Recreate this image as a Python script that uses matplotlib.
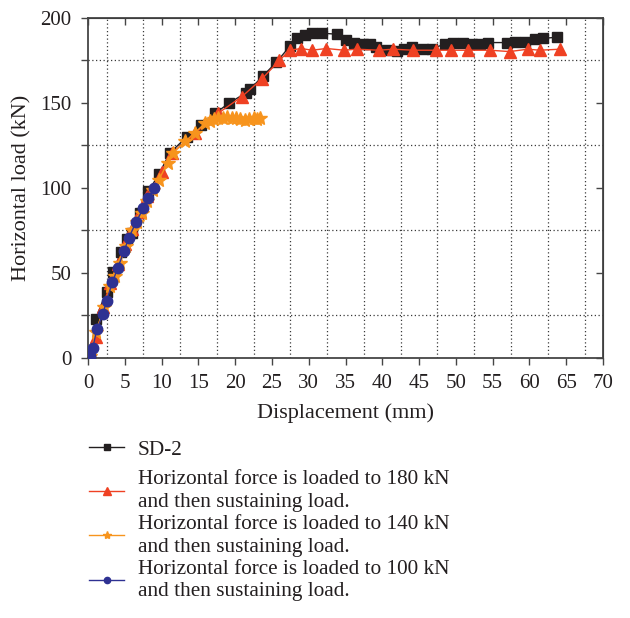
import matplotlib
matplotlib.use("Agg")
import matplotlib.pyplot as plt
from matplotlib.ticker import MultipleLocator

plt.rcParams['font.family'] = ['Liberation Serif', 'DejaVu Serif']

# SD-2 reference specimen
sd2_x = [0.3, 1.0, 2.5, 3.4, 4.4, 5.3, 5.9, 7.0, 8.2, 9.6, 11.1, 13.4, 15.3, 17.3,
         19.2, 21.5, 22.0, 23.8, 25.6, 27.5, 28.4, 29.5, 30.5, 31.8, 33.9, 35.1,
         36.2, 37.4, 38.3, 39.2, 40.6, 42.0, 43.0, 44.0, 45.5, 46.7, 48.5, 49.6,
         51.0, 52.2, 53.3, 54.4, 56.9, 58.0, 59.4, 60.8, 61.9, 63.7]
sd2_y = [0.6, 23, 39, 50.5, 62, 70, 73.5, 85, 98, 108, 120.5, 130, 137, 144,
         150, 156, 158, 166, 174, 183.7, 188, 190, 190.9, 191, 190.4, 187,
         185.5, 184.5, 184.5, 183, 181, 180.6, 181.6, 183, 182, 182, 184.5, 185.5,
         185, 184.5, 184.5, 185.5, 185.5, 186, 186, 187.5, 188, 188.6]

# Loaded to 180 kN, then sustained
f180_x = [0.3, 1.1, 2.0, 3.0, 4.0, 5.0, 6.0, 7.0, 8.0, 10.0, 11.4, 14.5, 17.7,
          20.9, 23.6, 26.0, 27.4, 29.0, 30.4, 32.4, 34.8, 36.5, 39.5, 41.5, 44.2,
          47.3, 49.4, 51.7, 54.6, 57.3, 59.8, 61.4, 64.2]
f180_y = [0.5, 12.5, 30, 44, 55, 67, 76, 86, 95, 109.4, 120.6, 132, 144,
          153.7, 164, 175, 181, 182, 181, 182, 181, 181.6, 181, 181.6, 181,
          181, 181, 181, 181, 180.2, 181.6, 181, 181.6]

# Loaded to 140 kN, then sustained
f140_x = [0.3, 1.0, 2.2, 3.0, 3.6, 4.35, 5.2, 6.0, 6.6, 7.3, 8.0, 8.8, 9.6, 10.8,
          11.6, 13.2, 14.5, 15.9, 16.5, 17.1, 17.7, 18.3, 18.9, 19.5, 20.1, 20.7,
          21.3, 21.9, 22.5, 23.0, 23.4]
f140_y = [1, 15, 30, 42, 48, 56, 66, 75, 80, 85, 92, 99, 104.7, 114.9,
          120.8, 127.3, 132.5, 138, 139.5, 140.5, 141, 141.3, 141.6, 141, 141.2, 140.4,
          139.8, 140.4, 141, 140.6, 141.4]

# Loaded to 100 kN, then sustained
f100_x = [0.3, 0.6, 1.2, 2.0, 2.5, 3.3, 4.0, 4.9, 5.5, 6.5, 7.5, 8.2, 9.0]
f100_y = [0.8, 5.7, 17, 25.7, 33.7, 44.5, 52.7, 63, 70.4, 79.8, 88, 94, 99.8]

labels = ["SD-2",
          "Horizontal force is loaded to 180 kN\nand then sustaining load.",
          "Horizontal force is loaded to 140 kN\nand then sustaining load.",
          "Horizontal force is loaded to 100 kN\nand then sustaining load."]

fig = plt.figure(figsize=(6.3, 6.18), dpi=100)
ax = fig.add_axes([0.14, 0.421, 0.817, 0.55])

c_black = "#231f20"
c_red = "#ef4123"
c_orange = "#f7941d"
c_blue = "#2e3192"
c_axis = "#454545"

h1, = ax.plot(sd2_x, sd2_y, color=c_black, lw=1.0, marker="s", ms=7.3, zorder=3)
h2, = ax.plot(f180_x, f180_y, color=c_red, lw=1.0, marker="^", ms=8.5, zorder=4)
h3, = ax.plot(f140_x, f140_y, color=c_orange, lw=1.0, marker="*", ms=10, zorder=5)
h4, = ax.plot(f100_x, f100_y, color=c_blue, lw=1.0, marker="o", ms=7.5, zorder=6)

ax.set_xlim(0, 70)
ax.set_ylim(0, 200)
ax.xaxis.set_major_locator(MultipleLocator(5))
ax.yaxis.set_major_locator(MultipleLocator(50))
ax.yaxis.set_minor_locator(MultipleLocator(25))
ax.tick_params(which="both", direction="out", length=5, width=1.0, pad=7,
               colors=c_axis, labelcolor="#231f20", labelsize=15)

# dotted grid between labelled ticks
for gx in [2.5 + 5 * i for i in range(14)]:
    ax.axvline(gx, color="#3a3a3a", ls=(0, (1, 2)), lw=0.9, zorder=1)
for gy in [25, 75, 125, 175]:
    ax.axhline(gy, color="#3a3a3a", ls=(0, (1, 2)), lw=0.9, zorder=1)

for s in ax.spines.values():
    s.set_color(c_axis)
    s.set_linewidth(1.3)

top = ax.secondary_xaxis("top")
top.set_xticks(range(0, 71, 5))
top.tick_params(direction="in", length=5, width=1.0, colors=c_axis, labeltop=False)
right = ax.secondary_yaxis("right")
right.set_yticks(range(0, 201, 50))
right.tick_params(direction="in", length=5, width=1.0, colors=c_axis, labelright=False)

ax.set_xlabel("Displacement (mm)", fontsize=16, color="#231f20", labelpad=7)
ax.set_ylabel("Horizontal load (kN)", fontsize=16, color="#231f20", labelpad=6)

legend_style = dict(frameon=False, fontsize=15.3, markerscale=0.6, handlelength=1.65,
                    handletextpad=0.65, labelspacing=0.14, borderaxespad=0)

leg_top = fig.legend([h1], labels[:1], loc="upper left",
                     bbox_to_anchor=(0.128, 0.302), **legend_style)
leg_rest = fig.legend([h2, h3, h4], labels[1:], loc="upper left",
                      bbox_to_anchor=(0.128, 0.253), **legend_style)
for lg in (leg_top, leg_rest):
    for t in lg.get_texts():
        t.set_linespacing(1.27)
        t.set_color("#231f20")

fig.savefig("out.png", dpi=100)
